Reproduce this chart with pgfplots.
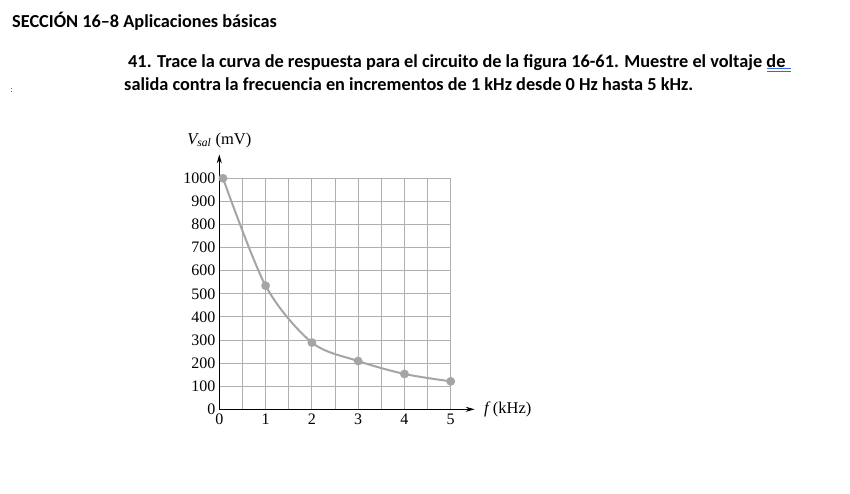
\documentclass[border=0pt]{standalone}
\usepackage{fontspec}
\setmainfont{Liberation Serif}
\newfontfamily\calibri{Carlito}
\usepackage{pgfplots}
\pgfplotsset{compat=1.18}
\usetikzlibrary{arrows.meta}
\definecolor{curvegray}{RGB}{165,165,165}
\definecolor{gridgray}{RGB}{175,175,175}
\definecolor{wordblue}{RGB}{60,100,220}
\begin{document}
\begin{tikzpicture}
\useasboundingbox (0,0) rectangle (850pt,-493pt);
\fill[white] (0,0) rectangle (850pt,-493pt);
\node[anchor=base west, inner sep=0pt, font=\calibri\bfseries\fontsize{18.3}{20}\selectfont] at (12pt,-27pt) {SECCIÓN 16–8 Aplicaciones básicas};
\node[anchor=base west, inner sep=0pt, font=\calibri\bfseries\fontsize{18.3}{20}\selectfont] at (128pt,-67pt) {41. Trace la curva de respuesta para el circuito de la figura 16-61. Muestre el voltaje de};
\node[anchor=base west, inner sep=0pt, font=\calibri\bfseries\fontsize{18.3}{20}\selectfont] at (124pt,-90pt) {salida contra la frecuencia en incrementos de 1 kHz desde 0 Hz hasta 5 kHz.};
\draw[wordblue, line width=0.8pt] (767pt,-68.5pt) -- (791pt,-68.5pt);
\draw[wordblue, line width=0.8pt] (767pt,-71.5pt) -- (791pt,-71.5pt);
\fill[wordblue] (11pt,-88pt) rectangle (12pt,-89pt);
\fill[wordblue] (11pt,-91pt) rectangle (12pt,-92pt);
\begin{axis}[
  at={(219.3pt,-409.3pt)}, anchor=south west,
  scale only axis, width=231.4pt, height=231pt,
  xmin=0, xmax=5, ymin=0, ymax=1000,
  axis lines=left,
  axis line style={black, line width=0.9pt, -{Stealth[length=9pt,width=5pt]}, shorten >=-24pt},
  xtick={0,1,2,3,4,5}, ytick={0,100,...,1000},
  minor x tick num=1,
  major tick length=0pt, minor tick length=0pt,
  grid=both,
  major grid style={gridgray, line width=0.9pt},
  minor grid style={gridgray, line width=0.9pt},
  /pgf/number format/assume math mode=true,
  /pgf/number format/1000 sep={},
  ticklabel style={font=\fontsize{16}{16}\selectfont},
  xticklabel style={yshift=-1pt},
  yticklabel style={xshift=-0.5pt},
  ylabel={\itshape V\textsubscript{sal} \upshape(mV)},
  ylabel style={rotate=-90, at={(rel axis cs:0,1)}, anchor=center, yshift=38pt, font=\fontsize{16.5}{16.5}\selectfont},
  xlabel={\itshape f \upshape(kHz)},
  xlabel style={at={(rel axis cs:1,0)}, anchor=west, xshift=30pt, font=\fontsize{16.5}{16.5}\selectfont},
  clip=false,
]
\addplot[curvegray, line width=2pt, smooth, mark=*, mark size=4.3pt, mark options={fill=curvegray, draw=curvegray, line width=0.1pt}]
  coordinates {(0.08,1000) (1,535) (2,289) (3,209) (4,153) (5,121)};
\end{axis}
\end{tikzpicture}
\end{document}
